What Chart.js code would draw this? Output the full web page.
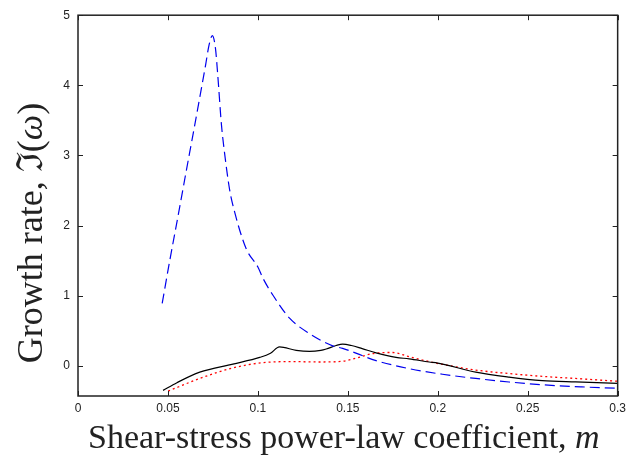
<!DOCTYPE html>
<html>
<head>
<meta charset="utf-8">
<script src="https://cdn.jsdelivr.net/npm/chart.js@4/dist/chart.umd.min.js"></script>
<style>
  body { margin: 0; background: #fff; }
  canvas { display: block; }
</style>
</head>
<body>
<canvas id="grafico" width="631" height="460"></canvas>
<script>
// valores
const xTicks = [0, 0.05, 0.1, 0.15, 0.2, 0.25, 0.3]
const xTickLabels = ["0", "0.05", "0.1", "0.15", "0.2", "0.25", "0.3"]
const yTicks = [0, 1, 2, 3, 4, 5]
const yTickLabels = ["0", "1", "2", "3", "4", "5"]

// curva azul (discontinua)
const azulM = [0.0468, 0.051, 0.0555, 0.0599, 0.0643, 0.0682, 0.071, 0.0729, 0.0747, 0.0764, 0.0778, 0.0797, 0.0815, 0.0843, 0.0867, 0.0935, 0.1, 0.1028, 0.1083, 0.1176, 0.1287, 0.1416, 0.1471, 0.1657, 0.1841, 0.2026, 0.2211, 0.2396, 0.2581, 0.28, 0.3]
const azulG = [0.89, 1.50, 2.12, 2.74, 3.35, 3.90, 4.30, 4.58, 4.71, 4.53, 4.11, 3.45, 3.03, 2.51, 2.23, 1.67, 1.41, 1.25, 1.01, 0.68, 0.46, 0.285, 0.25, 0.075, -0.04, -0.12, -0.18, -0.23, -0.27, -0.30, -0.32]

// curva negra (continua)
const negraM = [0.0473, 0.055, 0.0677, 0.0861, 0.101, 0.107, 0.112, 0.1213, 0.1287, 0.135, 0.138, 0.1435, 0.1471, 0.152, 0.158, 0.1657, 0.1768, 0.1841, 0.1952, 0.2, 0.2211, 0.2396, 0.2581, 0.2766, 0.3]
const negraG = [-0.35, -0.24, -0.09, 0.025, 0.12, 0.18, 0.27, 0.22, 0.205, 0.22, 0.24, 0.29, 0.31, 0.29, 0.245, 0.185, 0.12, 0.10, 0.055, 0.04, -0.09, -0.16, -0.21, -0.23, -0.25]

// curva roja (punteada)
const rojaM = [0.0501, 0.0677, 0.0861, 0.1046, 0.12, 0.134, 0.1471, 0.1546, 0.1638, 0.173, 0.1749, 0.1841, 0.1952, 0.2008, 0.2211, 0.2396, 0.2581, 0.2766, 0.3]
const rojaG = [-0.36, -0.18, -0.03, 0.05, 0.06, 0.055, 0.065, 0.11, 0.175, 0.19, 0.19, 0.13, 0.06, 0.03, -0.06, -0.11, -0.15, -0.18, -0.22]

function puntos(xs, ys) {
    return xs.map((x, i) => ({ x: x, y: ys[i] }))
}

// titulos de ejes con partes en cursiva
function dibujarTexto(ctx, partes, size, x, y) {
    let total = 0
    partes.forEach((p) => {
        ctx.font = (p.it ? "italic " : "") + size + "px 'Liberation Serif', serif"
        p.w = ctx.measureText(p.t).width
        total += p.w
    })
    let cx = x - total / 2
    partes.forEach((p) => {
        ctx.font = (p.it ? "italic " : "") + size + "px 'Liberation Serif', serif"
        ctx.fillText(p.t, cx, y)
        cx += p.w
    })
}

const marco = {
    id: "marco",
    afterDraw(chart) {
        const ctx = chart.ctx
        const a = chart.chartArea
        const sx = chart.scales.x
        const sy = chart.scales.y
        ctx.save()
        ctx.strokeStyle = "#222"
        ctx.lineWidth = 1.5
        ctx.strokeRect(a.left, a.top, a.right - a.left, a.bottom - a.top)
        ctx.lineWidth = 1
        ctx.beginPath()
        xTicks.forEach((v) => {
            const px = Math.round(sx.getPixelForValue(v)) + 0.5
            ctx.moveTo(px, a.bottom); ctx.lineTo(px, a.bottom - 5)
            ctx.moveTo(px, a.top); ctx.lineTo(px, a.top + 5)
        })
        yTicks.forEach((v) => {
            const py = Math.round(sy.getPixelForValue(v)) + 0.5
            ctx.moveTo(a.left, py); ctx.lineTo(a.left + 5, py)
            ctx.moveTo(a.right, py); ctx.lineTo(a.right - 5, py)
        })
        ctx.stroke()

        ctx.fillStyle = "#222"
        ctx.textBaseline = "alphabetic"
        dibujarTexto(ctx, [{ t: "Shear-stress power-law coefficient, " }, { t: "m", it: true }], 34, (a.left + a.right) / 2 - 4, 448)
        ctx.translate(42, 233)
        ctx.rotate(-Math.PI / 2)
        dibujarTexto(ctx, [{ t: "Growth rate, \u2111(" }, { t: "\u03c9", it: true }, { t: ")" }], 36, 0, 0)
        ctx.restore()
    }
}

const fuenteTicks = { family: "'Liberation Sans', Arial, sans-serif", size: 12 }

new Chart(document.getElementById("grafico"), {
    type: "line",
    data: {
        datasets: [
            {
                label: "azul",
                data: puntos(azulM, azulG),
                borderColor: "#0000ee",
                borderWidth: 1.2,
                borderDash: [10, 5],
                pointRadius: 0,
                cubicInterpolationMode: "monotone"
            },
            {
                label: "negra",
                data: puntos(negraM, negraG),
                borderColor: "#000",
                borderWidth: 1.2,
                pointRadius: 0,
                cubicInterpolationMode: "monotone"
            },
            {
                label: "roja",
                data: puntos(rojaM, rojaG),
                borderColor: "#ff0000",
                borderWidth: 1.3,
                borderDash: [2, 3],
                pointRadius: 0,
                cubicInterpolationMode: "monotone"
            }
        ]
    },
    options: {
        responsive: false,
        animation: false,
        layout: { padding: { top: 10, right: 12, left: 0, bottom: 0 } },
        plugins: { legend: { display: false }, tooltip: { enabled: false } },
        scales: {
            x: {
                type: "linear",
                min: 0,
                max: 0.3,
                grid: { display: false, drawTicks: false },
                border: { display: false },
                afterBuildTicks: (s) => { s.ticks = xTicks.map((v) => ({ value: v })) },
                afterFit: (s) => { s.height = 64 },
                ticks: {
                    padding: 5,
                    color: "#222",
                    font: fuenteTicks,
                    maxRotation: 0,
                    callback: (v) => xTickLabels[xTicks.indexOf(v)]
                }
            },
            y: {
                type: "linear",
                min: -0.43,
                max: 5,
                grid: { display: false, drawTicks: false },
                border: { display: false },
                afterBuildTicks: (s) => { s.ticks = yTicks.map((v) => ({ value: v })) },
                afterFit: (s) => { s.width = 78 },
                ticks: {
                    padding: 8,
                    color: "#222",
                    font: fuenteTicks,
                    callback: (v) => yTickLabels[yTicks.indexOf(v)]
                }
            }
        }
    },
    plugins: [marco]
})
</script>
</body>
</html>
